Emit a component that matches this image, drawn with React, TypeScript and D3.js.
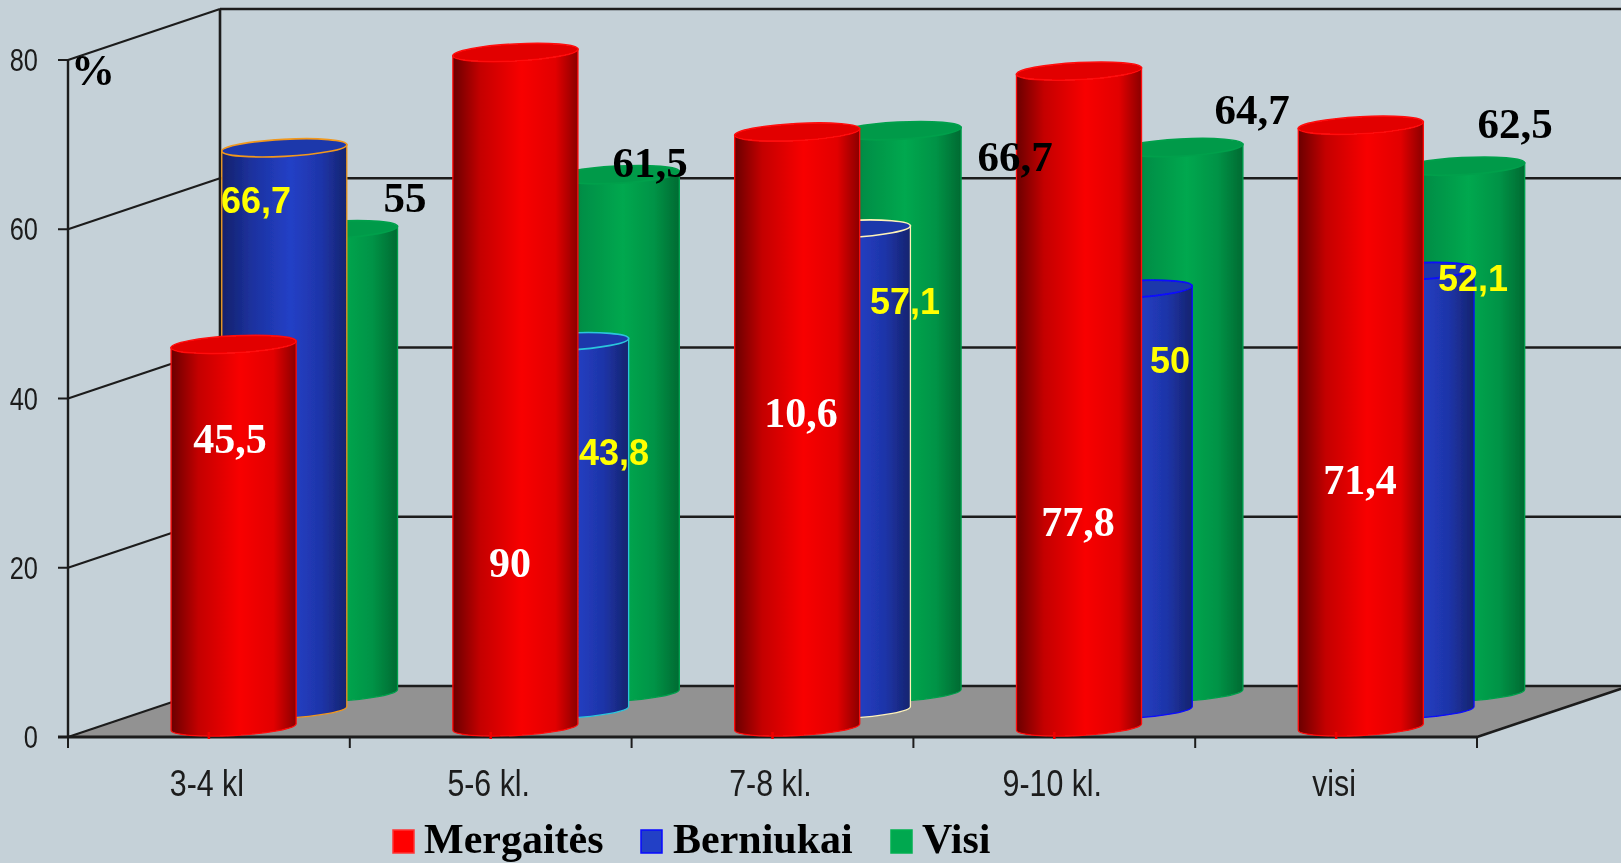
import React from "react";
import * as d3 from "d3";

const categories = ["3-4 kl", "5-6 kl.", "7-8 kl.", "9-10 kl.", "visi"];
const yTicks = [0, 20, 40, 60, 80];
const mergaites = [45.5, 90, 70.6, 77.8, 71.4];
const berniukai = [66.7, 43.8, 57.1, 50, 52.1];
const visi = [55, 61.5, 66.7, 64.7, 62.5];
const mergaitesLabels = ["45,5", "90", "10,6", "77,8", "71,4"];
const berniukaiLabels = ["66,7", "43,8", "57,1", "50", "52,1"];
const visiLabels = ["55", "61,5", "66,7", "64,7", "62,5"];
const berniukaiRims = ["#f2981c", "#2cc6dc", "#fff3b8", "#0a0aff", "#0a0aff"];

// layout
const W = 1621, H = 863;
const X0 = 68, X1 = 1477, Y0 = 737, Y80 = 60, DX = 152, DY = 51;
const RX = 62.6, RY = 8.5, TILT = 3 * Math.PI / 180;
const BG = "#c5d1d8";
const LINE = "#1c1c1c";
const SERIF = "'Liberation Serif', 'Times New Roman', serif";
const SANS = "'Liberation Sans', Arial, sans-serif";

const x = d3.scaleLinear().domain([0, categories.length]).range([X0, X1]);
const y = d3.scaleLinear().domain([0, 80]).range([0, Y0 - Y80]).clamp(true);

const seriesDefs = [
  { id: "visi", values: visi, step: 2, grad: [["0", "#006a32"], ["0.22", "#008f46"], ["0.55", "#00a84f"], ["0.8", "#009346"], ["1", "#006a32"]], top: "#009a49", rim: () => "#00a04c" },
  { id: "bern", values: berniukai, step: 1, grad: [["0", "#14226c"], ["0.25", "#1c32a0"], ["0.55", "#2340c6"], ["0.8", "#1e34a8"], ["1", "#15246e"]], top: "#1f38ab", rim: (i: number) => berniukaiRims[i] },
  { id: "merg", values: mergaites, step: 0, grad: [["0", "#6a0000"], ["0.22", "#c40000"], ["0.55", "#f80000"], ["0.82", "#e20000"], ["1", "#8a0000"]], top: "#e20000", rim: () => "#ff0a0a" },
];

const redLabelPos = [[230, 453], [510, 577], [801, 427], [1078, 536], [1360, 494]];
const blueLabelPos = [[256, 199], [614, 451], [905, 300], [1170, 359], [1473, 277]];
const greenLabelPos = [[405, 197], [650, 162], [1015, 156], [1252, 109], [1515, 123]];

function Cylinder({ cx, base, h, fill, top, rim }: any) {
  const ox = RX * Math.cos(TILT), oy = RX * Math.sin(TILT);
  const t = base - h;
  const b = base - 2.5;
  const d = `M${cx - ox},${t + oy} L${cx - ox},${b + oy} A${RX},${RY} -3 0 0 ${cx + ox},${b - oy} L${cx + ox},${t - oy} Z`;
  return (
    <g>
      <path d={d} fill={fill} stroke={rim} strokeWidth={1.3} />
      <ellipse cx={cx} cy={t} rx={RX} ry={RY} transform={`rotate(-3 ${cx} ${t})`} fill={top} stroke={rim} strokeWidth={1.7} />
    </g>
  );
}

function NarrowText({ px, py, size, anchor, children }: any) {
  return (
    <text transform={`translate(${px},${py}) scale(0.82,1)`} textAnchor={anchor} fontFamily={SANS} fontSize={size} fill="#1a1a1a">{children}</text>
  );
}

export default function App() {
  return (
    <svg width={W} height={H} style={{ position: "fixed", left: 0, top: 0, display: "block" }}>
      <defs>
        {seriesDefs.map((s) => (
          <linearGradient key={s.id} id={`g-${s.id}`} x1="0" x2="1" y1="0" y2="0">
            {s.grad.map(([o, c]) => <stop key={o} offset={o} stopColor={c} />)}
          </linearGradient>
        ))}
        <filter id="soft" x="0" y="0" width="100%" height="100%" filterUnits="userSpaceOnUse">
          <feGaussianBlur stdDeviation="0.55" />
        </filter>
      </defs>
      <g filter="url(#soft)">
        <rect width={W} height={H} fill={BG} />
        <polygon points={`${X0},${Y0} ${X0 + DX},${Y0 - DY} ${X1 + DX},${Y0 - DY} ${X1},${Y0}`} fill="#929292" />
        {yTicks.map((t) => {
          const yy = Y0 - y(t);
          return (
            <g key={t}>
              <line x1={X0} y1={yy} x2={X0 + DX} y2={yy - DY} stroke={LINE} strokeWidth={2.2} />
              <line x1={X0 + DX} y1={yy - DY} x2={W} y2={yy - DY} stroke={LINE} strokeWidth={2.6} />
              <line x1={58} y1={yy} x2={X0} y2={yy} stroke={LINE} strokeWidth={2} />
              <NarrowText px={38} py={yy + 11} size={31} anchor="end">{t}</NarrowText>
            </g>
          );
        })}
        <line x1={X0} y1={Y80} x2={X0} y2={Y0} stroke={LINE} strokeWidth={2.4} />
        <line x1={X0 + DX} y1={Y80 - DY} x2={X0 + DX} y2={Y0 - DY} stroke={LINE} strokeWidth={2.6} />
        <line x1={X1} y1={Y0} x2={X1 + DX} y2={Y0 - DY} stroke={LINE} strokeWidth={2.6} />
        <line x1={58} y1={Y0} x2={X1} y2={Y0} stroke={LINE} strokeWidth={3.2} />
        {d3.range(categories.length + 1).map((i) => (
          <line key={i} x1={x(i)} x2={x(i)} y1={Y0} y2={Y0 + 11} stroke={LINE} strokeWidth={2} />
        ))}
        {seriesDefs.map((s) =>
          s.values.map((v, i) => (
            <Cylinder
              key={s.id + i}
              cx={x(i) + 165.6 + s.step * 50.7}
              base={729.5 - s.step * 17.2}
              h={y(v)}
              fill={`url(#g-${s.id})`}
              top={s.top}
              rim={s.rim(i)}
            />
          ))
        )}
        {categories.map((_, i) => (
          <line key={i} x1={x(i + 0.5)} x2={x(i + 0.5)} y1={732} y2={739} stroke="#f00000" strokeWidth={2.5} />
        ))}
        {categories.map((c, i) => (
          <NarrowText key={c} px={x(i + 0.5) - 2} py={796} size={37} anchor="middle">{c}</NarrowText>
        ))}
        {mergaitesLabels.map((t, i) => (
          <text key={i} x={redLabelPos[i][0]} y={redLabelPos[i][1]} textAnchor="middle" fontFamily={SERIF} fontWeight="bold" fontSize={42} fill="#fff">{t}</text>
        ))}
        {berniukaiLabels.map((t, i) => (
          <text key={i} x={blueLabelPos[i][0]} y={blueLabelPos[i][1] + 14} textAnchor="middle" fontFamily={SANS} fontWeight="bold" fontSize={36} fill="#ffff00">{t}</text>
        ))}
        {visiLabels.map((t, i) => (
          <text key={i} x={greenLabelPos[i][0]} y={greenLabelPos[i][1] + 15} textAnchor="middle" fontFamily={SERIF} fontWeight="bold" fontSize={43} fill="#000">{t}</text>
        ))}
        <text x={93} y={85} textAnchor="middle" fontFamily={SERIF} fontWeight="bold" fontSize={44} fill="#000">%</text>
        {[
          { t: "Mergaitės", sx: 393, tx: 424, c: "#ff0000", b: "#ff3333" },
          { t: "Berniukai", sx: 641, tx: 673, c: "#2340c6", b: "#0a0aff" },
          { t: "Visi", sx: 891, tx: 922, c: "#00a84f", b: "#00b050" },
        ].map((l) => (
          <g key={l.t}>
            <rect x={l.sx} y={830} width={21} height={23} fill={l.c} stroke={l.b} strokeWidth={1.5} />
            <text x={l.tx} y={853} fontFamily={SERIF} fontWeight="bold" fontSize={42} fill="#000">{l.t}</text>
          </g>
        ))}
      </g>
    </svg>
  );
}
